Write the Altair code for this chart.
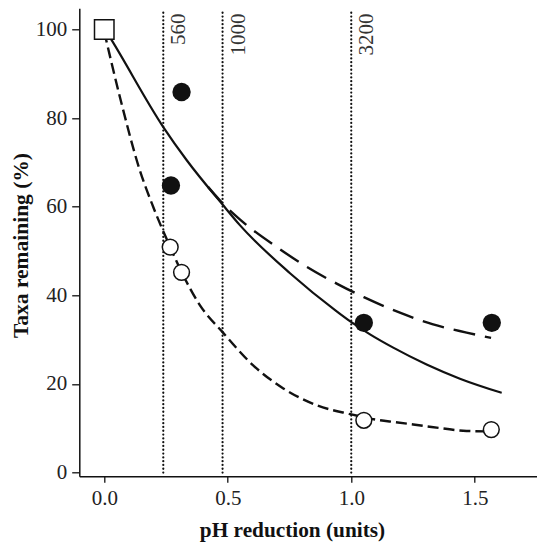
import altair as alt
import pandas as pd

# vertical reference lines (pH reduction) and their labels
ref_x = [0.239, 0.479, 1.0]
ref_labels = ["560", "1000", "3200"]

# observed points
square_x = [0.0]
square_y = [100.0]

filled_x = [0.270, 0.313, 1.051, 1.569]
filled_y = [64.8, 85.9, 33.8, 33.8]

open_x = [0.267, 0.313, 1.051, 1.567]
open_y = [50.9, 45.2, 11.8, 9.7]

# fitted curves
solid_x = [0.0, 0.030, 0.239, 0.334, 0.479, 0.550, 0.752, 0.941, 1.002, 1.076, 1.170, 1.305, 1.440, 1.609]
solid_y = [100.3, 97.6, 78.0, 70.5, 60.5, 55.8, 45.0, 36.4, 33.9, 31.2, 28.2, 24.4, 21.2, 18.0]

longdash_x = [0.42, 0.479, 0.550, 0.704, 0.821, 0.943, 1.051, 1.197, 1.328, 1.467, 1.566]
longdash_y = [64.5, 60.8, 57.1, 50.7, 46.4, 42.6, 39.6, 36.1, 33.5, 31.6, 30.4]

shortdash_x = [0.0, 0.070, 0.142, 0.198, 0.267, 0.313, 0.387, 0.479, 0.603, 0.725, 0.860,
               0.995, 1.117, 1.177, 1.325, 1.467, 1.560]
shortdash_y = [99.5, 83.3, 68.6, 60.0, 50.9, 45.3, 37.8, 31.7, 24.2, 19.0, 15.2,
               13.2, 11.8, 11.4, 10.3, 9.4, 9.3]

FONT = "Liberation Serif"
INK = "#111111"

xscale = alt.Scale(domain=[-0.101, 1.7512], nice=False, zero=False)
yscale = alt.Scale(domain=[-0.84, 104.8], nice=False, zero=False)

x_axis = alt.Axis(values=[0, 0.5, 1.0, 1.5], format=".1f", title="pH reduction (units)",
                  tickSize=6, labelPadding=5.3, labelBaseline="top", labelFlush=False,
                  titleX=212.7, titleY=60.5, titleAlign="center", titleBaseline="alphabetic",
                  titleFontSize=21.3)
y_axis = alt.Axis(values=[0, 20, 40, 60, 80, 100], title="Taxa remaining (%)",
                  tickSize=7.6, labelPadding=5, labelFlush=False,
                  titleX=-52, titleY=236.7, titleAngle=270, titleAlign="center",
                  titleBaseline="alphabetic", titleFontSize=21.5)

X = alt.X("x:Q", scale=xscale, axis=x_axis)
Y = alt.Y("y:Q", scale=yscale, axis=y_axis)


def df(xs, ys):
    return pd.DataFrame({"x": xs, "y": ys})


ref_df = pd.DataFrame({"x": ref_x, "label": ref_labels})

rules = alt.Chart(ref_df).mark_rule(
    color=INK, strokeWidth=2.2, strokeDash=[0.1, 3.7], strokeCap="round"
).encode(x=X, y=alt.datum(0, scale=yscale), y2=alt.datum(104))

texts = alt.Chart(ref_df).mark_text(
    angle=270, align="right", baseline="alphabetic", dy=22,
    font=FONT, fontSize=21, color="#333333"
).encode(x=X, y=alt.datum(103.6), text="label:N")

solid = alt.Chart(df(solid_x, solid_y)).mark_line(
    color=INK, strokeWidth=2.2, interpolate="monotone"
).encode(x=X, y=Y)

longd = alt.Chart(df(longdash_x, longdash_y)).mark_line(
    color=INK, strokeWidth=2.4, interpolate="monotone", strokeDash=[22, 10]
).encode(x=X, y=Y)

shortd = alt.Chart(df(shortdash_x, shortdash_y)).mark_line(
    color=INK, strokeWidth=2.4, interpolate="monotone", strokeDash=[11, 5]
).encode(x=X, y=Y)

sq = alt.Chart(df(square_x, square_y)).mark_point(
    shape="square", filled=True, fill="white", stroke=INK, strokeWidth=1.5, size=380, opacity=1
).encode(x=X, y=Y)

filled = alt.Chart(df(filled_x, filled_y)).mark_point(
    shape="circle", filled=True, color=INK, size=336, opacity=1
).encode(x=X, y=Y)

opn = alt.Chart(df(open_x, open_y)).mark_point(
    shape="circle", filled=True, fill="white", stroke=INK, strokeWidth=1.5, size=250, opacity=1
).encode(x=X, y=Y)

chart = alt.layer(rules, texts, solid, longd, shortd, sq, filled, opn).properties(
    width=457.5,
    height=468,
    autosize=alt.AutoSizeParams(type="none"),
    padding={"left": 71.3, "top": 0.3, "right": 0, "bottom": 66},
).configure_view(stroke=None).configure_axis(
    grid=False,
    domainColor=INK,
    domainWidth=1.5,
    tickColor=INK,
    tickWidth=1.3,
    labelFont=FONT,
    labelFontSize=21,
    labelColor="#222222",
    titleFont=FONT,
    titleFontWeight="bold",
    titleColor=INK,
)

chart.save("out.html", embed_options={"renderer": "svg", "actions": False})
